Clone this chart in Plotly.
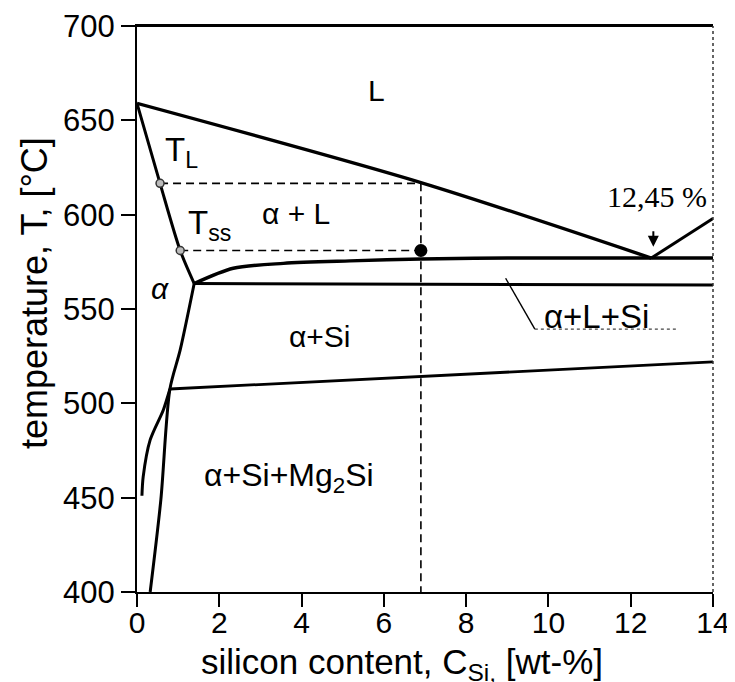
import plotly.graph_objects as go

# ---- data ----
liq_al_x = [0.0, 6.9, 12.5]
liq_al_t = [659, 617, 577]
liq_si_x = [12.5, 14.0]
liq_si_t = [577, 598]
sol_x = [0.0, 0.56, 1.05, 1.39]
sol_t = [659, 616.6, 581, 563.5]
eut_upper_x = [1.39, 2.34, 3.56, 5.18, 6.9, 9.0, 14.0]
eut_upper_t = [563.5, 571.6, 574.2, 575.5, 576.5, 577, 577]
eut_lower_x = [1.39, 14.0]
eut_lower_t = [563.5, 562.7]
solvus_x = [1.39, 1.05, 0.80, 0.58, 0.32]
solvus_t = [563.5, 528.3, 507.6, 449, 400]
mg_solvus_x = [0.80, 0.64, 0.32, 0.15, 0.12]
mg_solvus_t = [507.6, 496.5, 480.6, 461, 451]
ternary_x = [0.80, 14.0]
ternary_t = [507.6, 522]
tl_line_x = [0.56, 6.9]
tl_line_t = [616.6, 616.6]
tss_line_x = [1.05, 6.9]
tss_line_t = [581, 581]
vert_x = [6.9, 6.9]
vert_t = [616.6, 400]
open_pts_x = [0.56, 1.05]
open_pts_t = [616.6, 581]
dot_x = [6.9]
dot_t = [581]
leader_x = [8.96, 9.67, 13.12]
leader_t = [566.3, 539.3, 539.3]

x_ticks = [0, 2, 4, 6, 8, 10, 12, 14]
y_ticks = [400, 450, 500, 550, 600, 650, 700]

FONT = "Arial, Liberation Sans, Helvetica, sans-serif"
SERIF = "Times New Roman, Liberation Serif, serif"

fig = go.Figure()

def line(x, y, w=3.2, dash=None, color="black", shape="linear"):
    fig.add_trace(go.Scatter(x=x, y=y, mode="lines",
                             line=dict(color=color, width=w, dash=dash, shape=shape,
                                       smoothing=0.8),
                             hoverinfo="skip", showlegend=False))

line(liq_al_x, liq_al_t, 3.4, shape="spline")
line(liq_si_x, liq_si_t, 3.0)
line(sol_x, sol_t, 3.0, shape="spline")
line(eut_upper_x, eut_upper_t, 3.4, shape="spline")
line(eut_lower_x, eut_lower_t, 3.0)
line(solvus_x, solvus_t, 3.0, shape="spline")
line(mg_solvus_x, mg_solvus_t, 3.0, shape="spline")
line(ternary_x, ternary_t, 2.8)
line(tl_line_x, tl_line_t, 1.6, "8px,5px")
line(tss_line_x, tss_line_t, 1.6, "8px,5px")
line(vert_x, vert_t, 1.6, "8px,5px")
line(leader_x[:2], leader_t[:2], 1.4)
line(leader_x[1:], leader_t[1:], 1.2, "dot", "#444")

fig.add_trace(go.Scatter(x=open_pts_x, y=open_pts_t, mode="markers",
                         marker=dict(symbol="circle", size=8, color="#bbb",
                                     line=dict(color="#333", width=1.5)),
                         hoverinfo="skip", showlegend=False))
fig.add_trace(go.Scatter(x=dot_x, y=dot_t, mode="markers",
                         marker=dict(symbol="circle", size=13, color="black"),
                         hoverinfo="skip", showlegend=False))

def label(x, y, text, size=30, family=FONT):
    fig.add_annotation(x=x, y=y, text=text, showarrow=False,
                       font=dict(family=family, size=size, color="black"),
                       xanchor="center", yanchor="middle")

label(5.83, 666, "L")
label(1.09, 633, "T<sub>L</sub>", 33)
label(1.75, 594.5, "T<sub>ss</sub>", 33)
label(3.86, 600.4, "α + L")
label(0.55, 561, "<i>α</i>")
label(12.64, 609.4, "12,45 %", 30, SERIF)
label(11.18, 545.8, "α+L+Si", 33)
label(4.45, 535.4, "α+Si")
label(3.69, 460.5, "α+Si+Mg<sub>2</sub>Si", 32)

fig.add_annotation(x=12.55, y=583, ax=0, ay=-17, text="", showarrow=True,
                   arrowhead=2, arrowsize=1.1, arrowwidth=2, arrowcolor="black")

# axis titles
fig.add_annotation(xref="paper", yref="paper", x=(402 - 137) / 576, y=-(664 - 592) / 566,
                   text="silicon content, C<sub>Si,</sub> [wt-%]", showarrow=False,
                   font=dict(family=FONT, size=35, color="black"),
                   xanchor="center", yanchor="middle")
fig.add_annotation(xref="paper", yref="paper", x=-(137 - 34) / 576, y=(592 - 293) / 566,
                   text="temperature, T, [°C]", showarrow=False, textangle=-90,
                   font=dict(family=FONT, size=36, color="black"),
                   xanchor="center", yanchor="middle")

# frame: solid top edge, dotted right edge
fig.add_shape(type="line", xref="paper", yref="paper", x0=0, x1=1, y0=1, y1=1,
              line=dict(color="black", width=2))
fig.add_shape(type="line", xref="paper", yref="paper", x0=1, x1=1, y0=0, y1=1,
              line=dict(color="#333", width=1.5, dash="dot"))

fig.update_xaxes(range=[0, 14], tickvals=x_ticks, ticks="outside", ticklen=13,
                 tickwidth=2, tickcolor="black", showline=True, linecolor="black",
                 linewidth=2, mirror=True, showgrid=False, zeroline=False,
                 ticklabeloverflow="allow", ticklabelstandoff=-10,
                 tickfont=dict(family=FONT, size=30, color="black"))
fig.update_yaxes(range=[400, 700], tickvals=y_ticks, ticks="outside", ticklen=14,
                 tickwidth=2, tickcolor="black", showline=True, linecolor="black",
                 linewidth=2, mirror=False, showgrid=False, zeroline=False,
                 ticklabeloverflow="allow",
                 tickfont=dict(family=FONT, size=31, color="black"))

# the page body adds an 8px offset, so the figure is sized/margined accordingly
fig.update_layout(width=727, height=674,
                  margin=dict(l=129, r=22, t=18, b=90, autoexpand=False),
                  plot_bgcolor="white", paper_bgcolor="white", showlegend=False)

fig.write_html("out.html")
